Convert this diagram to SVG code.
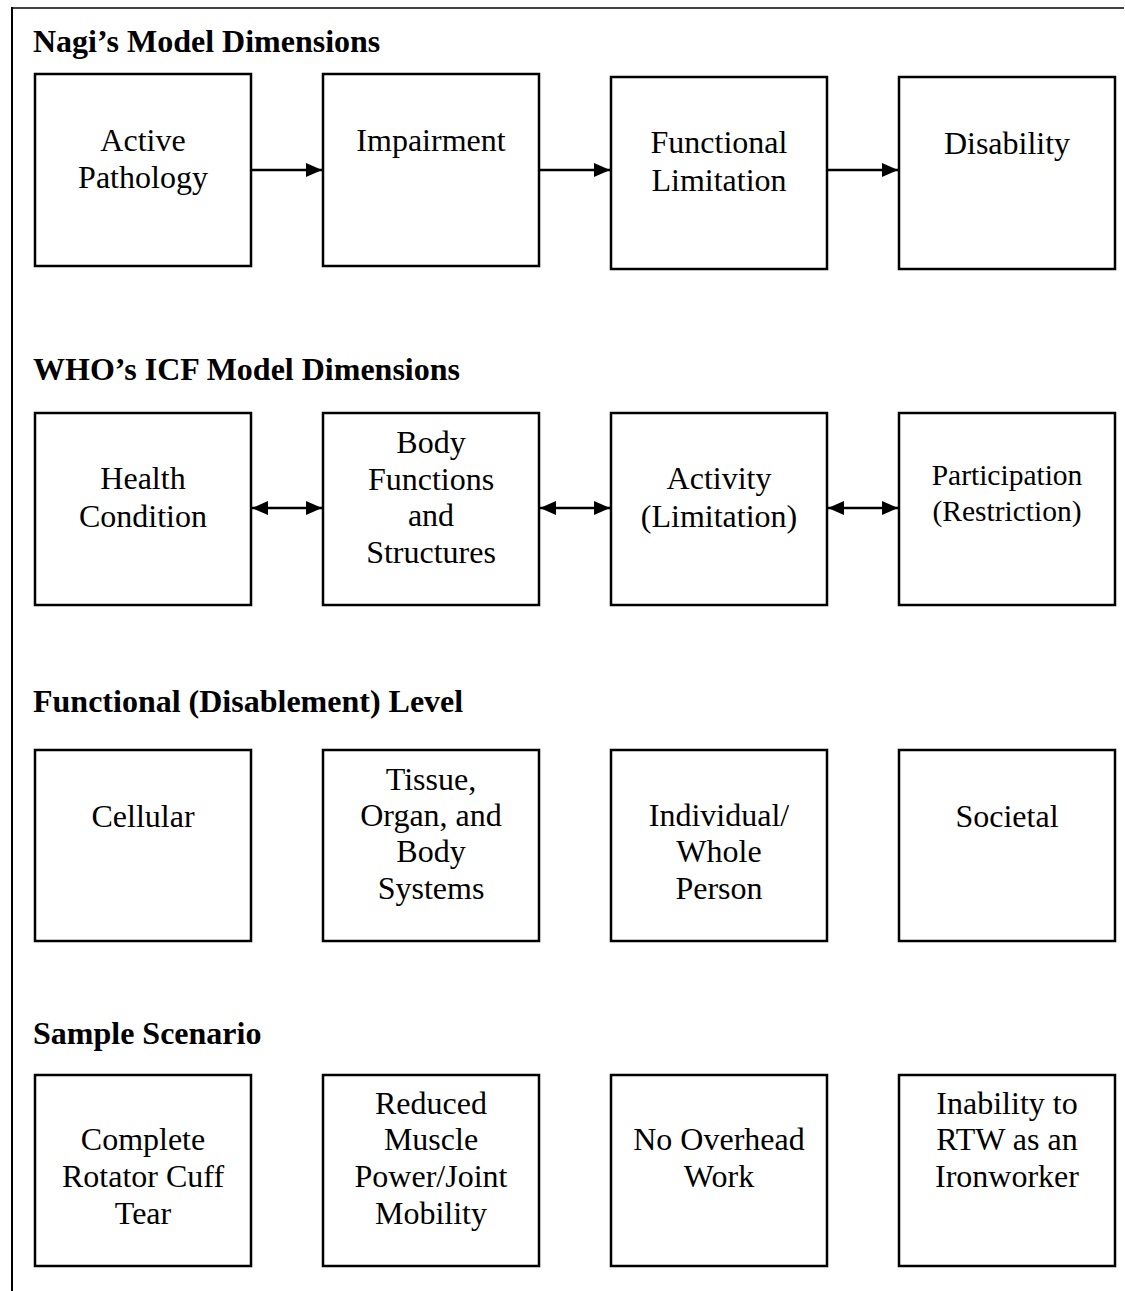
<svg xmlns="http://www.w3.org/2000/svg" width="1125" height="1291" viewBox="0 0 1125 1291">
<style>
.box{fill:#fff;stroke:#000;stroke-width:2.5}
.t{font-family:"Liberation Serif","Times New Roman",serif;font-size:32px;fill:#000;text-anchor:middle}
.s{font-size:29.5px}
.h{font-family:"Liberation Serif","Times New Roman",serif;font-size:32px;font-weight:bold;fill:#000}
.c{stroke:#000;stroke-width:2.5;fill:none}
</style>
<defs>
<marker id="ah" markerUnits="userSpaceOnUse" markerWidth="16" markerHeight="14" refX="16" refY="7" orient="auto-start-reverse">
<path d="M0,0 L16,7 L0,14 Z" fill="#000"/>
</marker>
</defs>
<rect width="1125" height="1291" fill="#fff"/>
<g id="frame">
<line x1="12" y1="8" x2="1124" y2="8" stroke="#444" stroke-width="2"/>
<line x1="12" y1="7" x2="12" y2="1291" stroke="#000" stroke-width="2"/>
</g>
<g id="titles">
<text class="h" x="33" y="52">Nagi’s Model Dimensions</text>
<text class="h" x="33" y="380">WHO’s ICF Model Dimensions</text>
<text class="h" x="33" y="712">Functional (Disablement) Level</text>
<text class="h" x="33" y="1044">Sample Scenario</text>
</g>
<g id="n-active"><rect class="box" x="35" y="74" width="216" height="192"/><text class="t" x="143" y="151">Active</text><text class="t" x="143" y="188">Pathology</text></g>
<g id="n-impairment"><rect class="box" x="323" y="74" width="216" height="192"/><text class="t" x="431" y="151">Impairment</text></g>
<g id="n-funclim"><rect class="box" x="611" y="77" width="216" height="192"/><text class="t" x="719" y="153">Functional</text><text class="t" x="719" y="191">Limitation</text></g>
<g id="n-disability"><rect class="box" x="899" y="77" width="216" height="192"/><text class="t" x="1007" y="154">Disability</text></g>

<g id="n-health"><rect class="box" x="35" y="413" width="216" height="192"/><text class="t" x="143" y="489">Health</text><text class="t" x="143" y="527">Condition</text></g>
<g id="n-body"><rect class="box" x="323" y="413" width="216" height="192"/><text class="t" x="431" y="453">Body</text><text class="t" x="431" y="490">Functions</text><text class="t" x="431" y="526">and</text><text class="t" x="431" y="563">Structures</text></g>
<g id="n-activity"><rect class="box" x="611" y="413" width="216" height="192"/><text class="t" x="719" y="489">Activity</text><text class="t" x="719" y="527">(Limitation)</text></g>
<g id="n-participation"><rect class="box" x="899" y="413" width="216" height="192"/><text class="t s" x="1007" y="485">Participation</text><text class="t s" x="1007" y="521">(Restriction)</text></g>

<g id="n-cellular"><rect class="box" x="35" y="750" width="216" height="191"/><text class="t" x="143" y="827">Cellular</text></g>
<g id="n-tissue"><rect class="box" x="323" y="750" width="216" height="191"/><text class="t" x="431" y="790">Tissue,</text><text class="t" x="431" y="826">Organ, and</text><text class="t" x="431" y="862">Body</text><text class="t" x="431" y="899">Systems</text></g>
<g id="n-individual"><rect class="box" x="611" y="750" width="216" height="191"/><text class="t" x="719" y="826">Individual/</text><text class="t" x="719" y="862">Whole</text><text class="t" x="719" y="899">Person</text></g>
<g id="n-societal"><rect class="box" x="899" y="750" width="216" height="191"/><text class="t" x="1007" y="827">Societal</text></g>

<g id="n-tear"><rect class="box" x="35" y="1075" width="216" height="191"/><text class="t" x="143" y="1150">Complete</text><text class="t" x="143" y="1187">Rotator Cuff</text><text class="t" x="143" y="1224">Tear</text></g>
<g id="n-reduced"><rect class="box" x="323" y="1075" width="216" height="191"/><text class="t" x="431" y="1114">Reduced</text><text class="t" x="431" y="1150">Muscle</text><text class="t" x="431" y="1187">Power/Joint</text><text class="t" x="431" y="1224">Mobility</text></g>
<g id="n-overhead"><rect class="box" x="611" y="1075" width="216" height="191"/><text class="t" x="719" y="1150">No Overhead</text><text class="t" x="719" y="1187">Work</text></g>
<g id="n-inability"><rect class="box" x="899" y="1075" width="216" height="191"/><text class="t" x="1007" y="1114">Inability to</text><text class="t" x="1007" y="1150">RTW as an</text><text class="t" x="1007" y="1187">Ironworker</text></g>

<g id="connectors">
<line class="c" x1="251" y1="170" x2="322" y2="170" marker-end="url(#ah)"/>
<line class="c" x1="539" y1="170" x2="610" y2="170" marker-end="url(#ah)"/>
<line class="c" x1="827" y1="170" x2="898" y2="170" marker-end="url(#ah)"/>
<line class="c" x1="252" y1="508" x2="322" y2="508" marker-start="url(#ah)" marker-end="url(#ah)"/>
<line class="c" x1="540" y1="508" x2="610" y2="508" marker-start="url(#ah)" marker-end="url(#ah)"/>
<line class="c" x1="828" y1="508" x2="898" y2="508" marker-start="url(#ah)" marker-end="url(#ah)"/>
</g>
</svg>
